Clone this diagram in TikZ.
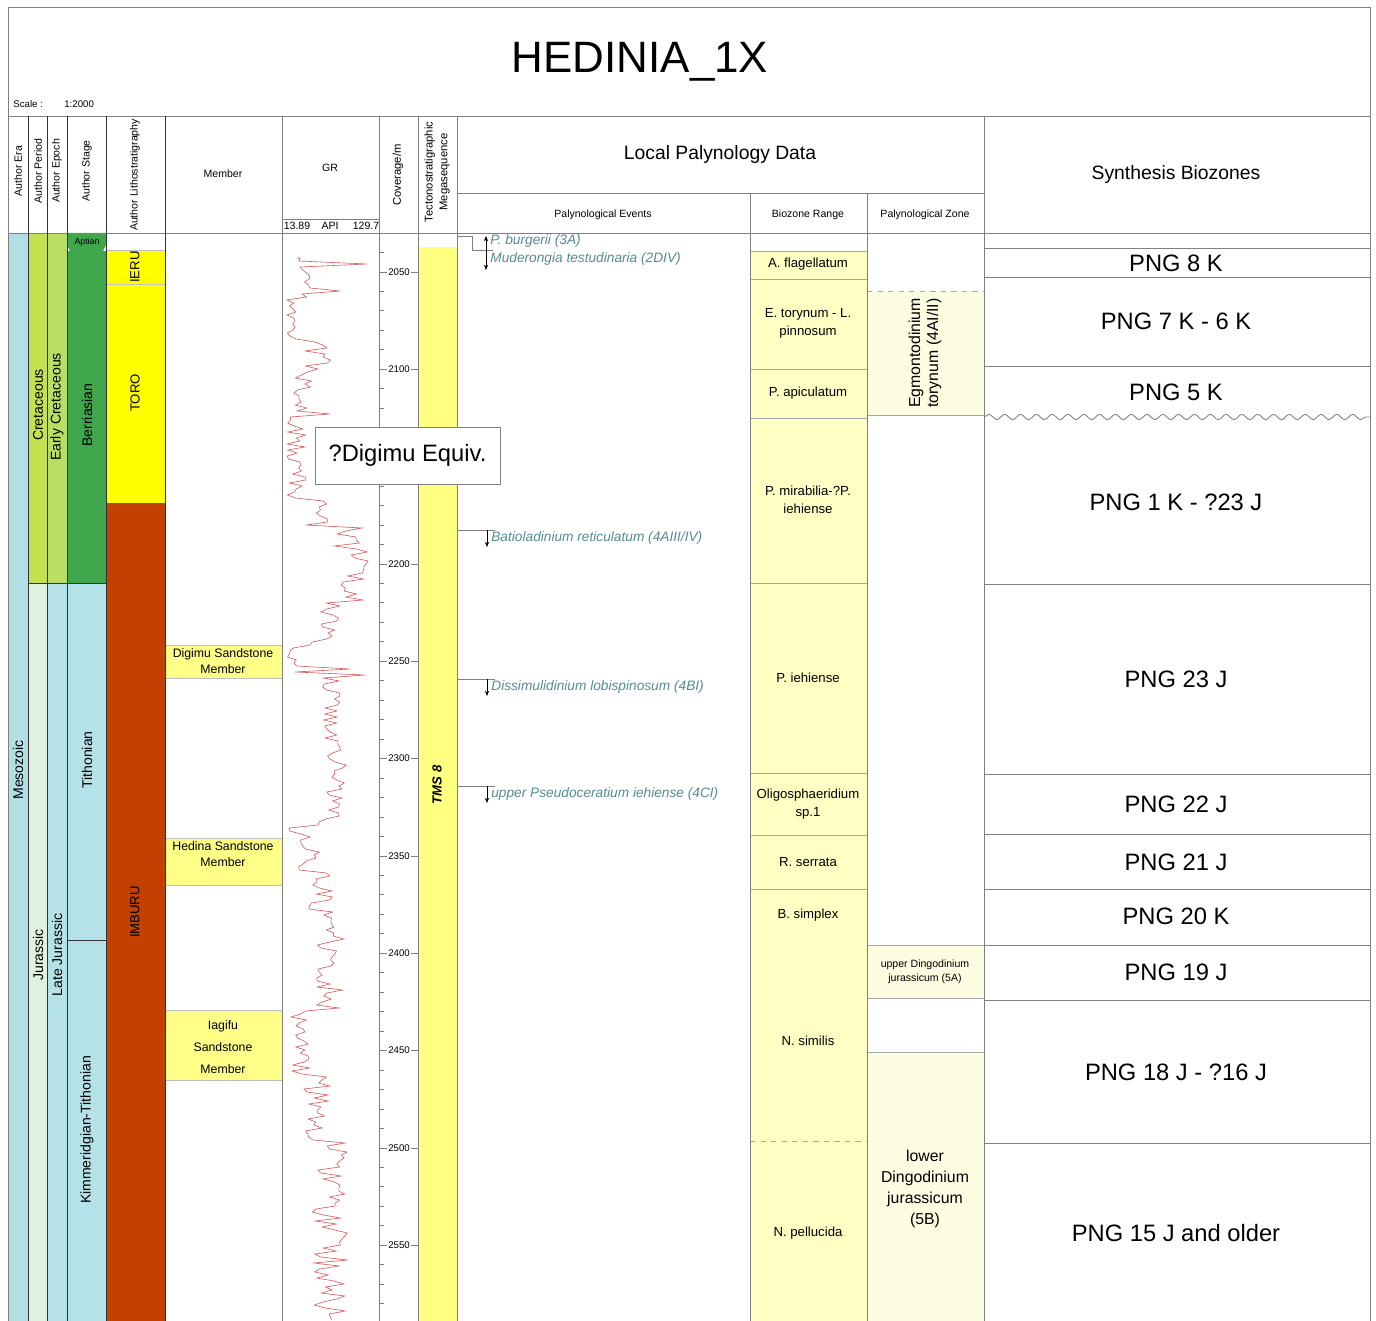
\documentclass[tikz,border=0pt]{standalone}
\usepackage{fontspec}
\setmainfont{Liberation Sans}
\usepackage{tikz}
\usetikzlibrary{arrows.meta, decorations.pathmorphing}
\definecolor{gridgray}{RGB}{128,128,128}
\definecolor{eracol}{RGB}{178,223,229}
\definecolor{cretcol}{RGB}{197,224,80}
\definecolor{ecretcol}{RGB}{185,222,100}
\definecolor{jurcol}{RGB}{226,242,224}
\definecolor{ljurcol}{RGB}{180,226,232}
\definecolor{berrcol}{RGB}{64,166,76}
\definecolor{imbcol}{RGB}{194,65,0}
\definecolor{lithocol}{RGB}{255,255,0}
\definecolor{membcol}{RGB}{255,255,136}
\definecolor{tmscol}{RGB}{255,255,128}
\definecolor{rangecol}{RGB}{255,255,196}
\definecolor{zonecol}{RGB}{253,253,226}
\definecolor{evtcol}{RGB}{84,140,142}
\definecolor{grcol}{RGB}{214,90,90}
\newcommand{\fsz}[2]{\fontsize{#1}{#2}\selectfont}

\begin{document}
\begin{tikzpicture}[x=0.02cm, y=-0.02cm, >={Stealth[length=3pt,width=2.4pt]},
    rule/.style={gridgray, line width=0.5pt},
    darkrule/.style={gridgray!40!black, line width=0.5pt},
    hdr/.style={font=\fsz{6}{8}, align=center, inner sep=0},
    vhdr/.style={hdr, rotate=90},
    unitlbl/.style={font=\fsz{8}{9.6}, rotate=90, inner sep=0},
    rangebox/.style={fill=rangecol, draw=gridgray!70, line width=0.4pt},
    zonebox/.style={fill=zonecol, draw=gridgray!70, line width=0.4pt},
    rangetxt/.style={font=\fsz{7.5}{10.2}, align=center, inner sep=0},
    membbox/.style={fill=membcol, draw=gridgray!50, line width=0.4pt},
    membtxt/.style={font=\fsz{7}{9.3}, align=center, inner sep=0},
    png/.style={font=\fsz{13.5}{16}, inner sep=0},
    evt/.style={font=\fsz{7.8}{9.4}\itshape, text=evtcol, anchor=west, inner sep=0},
    depthlbl/.style={font=\fsz{5.5}{6.6}, inner sep=0}]
\useasboundingbox (0,0) rectangle (1376,1321);

% chronostratigraphy columns
\fill[eracol] (8,233) rectangle (28,1321);
\fill[cretcol] (28,233) rectangle (47,583);
\fill[jurcol] (28,583) rectangle (47,1321);
\fill[ecretcol] (47,233) rectangle (67,583);
\fill[ljurcol] (47,583) rectangle (67,1321);
\fill[berrcol] (67,233) -- (106,233) -- (106,245) -- (103,251) -- (70,251) -- (67,245) -- cycle;
\fill[berrcol] (67,251) rectangle (106,583);
\fill[ljurcol] (67,583) rectangle (106,1321);
\draw[darkrule] (67,940) -- (106,940);

% lithostratigraphy
\fill[lithocol] (106,250) rectangle (165,503);
\draw[gridgray!50] (106,250) -- (165,250) (106,284) -- (165,284);
\fill[imbcol] (106,503) rectangle (165,1321);

% members
\draw[membbox] (165,645) rectangle (282,678);
\draw[membbox] (165,838) rectangle (282,885);
\draw[membbox] (165,1010) rectangle (282,1080);

% megasequence
\fill[tmscol] (418,247) rectangle (457,1321);

% biozone range
\draw[rangebox] (750,251) rectangle (867,279);
\draw[rangebox] (750,279) rectangle (867,369);
\draw[rangebox] (750,369) rectangle (867,418);
\draw[rangebox] (750,418) rectangle (867,583);
\draw[rangebox] (750,583) rectangle (867,773);
\draw[rangebox] (750,773) rectangle (867,835);
\draw[rangebox] (750,835) rectangle (867,889);
\draw[rangebox] (750,889) rectangle (867,945);
\fill[rangecol] (750,945) rectangle (867,1321);
\draw[gridgray!70, dashed, line width=0.4pt] (750,1141) -- (867,1141);

% palynological zone
\fill[zonecol] (867,291) rectangle (984,415);
\draw[gridgray!70, dashed, line width=0.4pt] (867,291) -- (984,291);
\draw[gridgray!70, line width=0.4pt] (867,415) -- (984,415);
\draw[zonebox] (867,945) rectangle (984,998);
\fill[zonecol] (867,1052) rectangle (984,1321);
\draw[gridgray!70, line width=0.4pt] (867,1052) -- (984,1052);

% GR log
\pgfmathsetseed{11}
\draw[grcol, line width=0.35pt] (297,258)
  foreach \ka/\kb/\m/\a in {86/87/300/4, 88/88/367/0, 89/89/300/0, 90/96/305/6,
    97/97/340/0, 98/99/305/4, 100/113/292/6, 114/123/318/18, 124/137/303/10,
    138/138/330/0, 139/166/297/10, 167/175/318/12, 176/182/350/18, 183/200/355/14,
    201/213/330/10, 214/215/305/8, 216/222/292/5, 223/223/350/0, 224/224/295/0,
    225/225/365/0, 226/253/332/10, 254/272/338/12, 273/275/318/8, 276/277/290/3,
    278/290/310/12, 291/306/322/14, 307/336/330/14, 337/358/300/10, 359/380/318/14,
    381/440/330/18}
  { foreach \k in {\ka,...,\kb} { -- ({\m+\a*rand},{3*\k}) } };

% frame and grid
\draw[rule] (8,1321) -- (8,7) -- (1370,7) -- (1370,1321);
\draw[rule] (8,116) -- (1370,116);
\draw[rule] (8,233) -- (1370,233);
\draw[rule] (457,193) -- (984,193);
\draw[rule] (282,219) -- (379,219);
\foreach \x in {28,47,67,106,165} \draw[darkrule] (\x,116) -- (\x,1321);
\draw[darkrule] (28,583) -- (106,583);
\foreach \x in {282,379,418,457,984} \draw[rule] (\x,116) -- (\x,1321);
\foreach \x in {750,867} \draw[rule] (\x,193) -- (\x,1321);
\foreach \y in {248,277,366,584,774,834,889,945,1000,1143} \draw[rule] (984,\y) -- (1370,\y);
\draw[rule, decorate, decoration={snake, segment length=9pt, amplitude=1.5pt}] (984,417) -- (1370,417);

% depth scale (2150 sits under the equivalent box)
\foreach \d in {2040,2050,...,2580}
  \draw[rule] (379,{272+(\d-2050)*1.9466}) -- (384,{272+(\d-2050)*1.9466});
\foreach \d in {2050,2100,2200,2250,...,2550}{
  \draw[rule] (379,{272+(\d-2050)*1.9466}) -- (387,{272+(\d-2050)*1.9466});
  \draw[rule] (411,{272+(\d-2050)*1.9466}) -- (418,{272+(\d-2050)*1.9466});
  \node[depthlbl] (d\d) at (399,{272+(\d-2050)*1.9466}) {\d};
}

% title and headers
\node[font=\fsz{25}{30}, inner sep=0] (title) at (640,62) {HEDINIA\_1X};
\node[hdr, font=\fsz{5.5}{7}, anchor=west] (scale) at (13,104) {Scale :};
\node[hdr, font=\fsz{5.5}{7}, anchor=west] (scaleval) at (64,104) {1:2000};
\node[vhdr] (hEra) at (18,171) {Author Era};
\node[vhdr] (hPeriod) at (38,171) {Author Period};
\node[vhdr] (hEpoch) at (57,171) {Author Epoch};
\node[vhdr] (hStage) at (87,171) {Author Stage};
\node[vhdr] (hLitho) at (135,175) {Author Lithostratigraphy};
\node[hdr] (hMember) at (223,174) {Member};
\node[hdr] (hGR) at (330,168) {GR};
\node[hdr] (grMin) at (297,226) {13.89};
\node[hdr] (grUnit) at (330,226) {API};
\node[hdr] (grMax) at (366,226) {129.7};
\node[vhdr, font=\fsz{6.4}{8.4}] (hCov) at (398,175) {Coverage/m};
\node[vhdr, font=\fsz{6.4}{8.4}] (hTect) at (437,172) {Tectonostratigraphic\\Megasequence};
\node[font=\fsz{11}{13}, inner sep=0] (hLocal) at (720,155) {Local Palynology Data};
\node[hdr] (hEvents) at (603,215) {Palynological Events};
\node[hdr] (hRange) at (808,215) {Biozone Range};
\node[hdr] (hZone) at (925,215) {Palynological Zone};
\node[font=\fsz{11}{13}, inner sep=0] (hSynth) at (1176,175) {Synthesis Biozones};

% chronostratigraphy labels
\node[unitlbl] (mesozoic) at (18,770) {Mesozoic};
\node[unitlbl] (cret) at (38,405) {Cretaceous};
\node[unitlbl] (jur) at (38,955) {Jurassic};
\node[unitlbl] (ecret) at (57,407) {Early Cretaceous};
\node[unitlbl] (ljur) at (57,955) {Late Jurassic};
\node[font=\fsz{5}{6}, inner sep=0] (aptian) at (87,242) {Aptian};
\node[unitlbl] (berr) at (87,415) {Berriasian};
\node[unitlbl] (tith) at (87,760) {Tithonian};
\node[unitlbl] (kimm) at (87,1130) {Kimmeridgian-Tithonian};
\node[unitlbl, font=\fsz{7.5}{9}] (ieru) at (135,267) {IERU};
\node[unitlbl, font=\fsz{7.5}{9}] (toro) at (135,393) {TORO};
\node[unitlbl, font=\fsz{7.5}{9}] (imburu) at (135,912) {IMBURU};

% members
\node[membtxt] (digimu) at (223,661) {Digimu Sandstone\\Member};
\node[membtxt] (hedina) at (223,854) {Hedina Sandstone\\Member};
\node[membtxt, font=\fsz{7}{12.5}] (iagifu) at (223,1047) {Iagifu\\Sandstone\\Member};
\node[unitlbl, font=\fsz{7.5}{9}\bfseries\itshape] (tms) at (437,785) {TMS 8};

% palynological events
\draw[rule] (457,236) -- (472,236) -- (472,250) -- (493,250);
\draw[<->, line width=0.4pt] (486,236) -- (486,270);
\node[evt] (burgerii) at (490,241) {P. burgerii (3A)};
\node[evt] (muder) at (490,259) {Muderongia testudinaria (2DIV)};
\foreach \y/\n/\t in {530/batio/{Batioladinium reticulatum (4AIII/IV)},
    679/dissi/{Dissimulidinium lobispinosum (4BI)},
    786/pseudo/{upper Pseudoceratium iehiense (4CI)}}{
  \draw[rule] (457,\y) -- (495,\y);
  \draw[->, line width=0.4pt] (487,\y) -- (487,{\y+17});
  \node[evt] (\n) at (491,{\y+8}) {\t};
}

% biozone range labels
\node[rangetxt] (flag) at (808,264) {A. flagellatum};
\node[rangetxt] (tory) at (808,323) {E. torynum - L.\\pinnosum};
\node[rangetxt] (apic) at (808,393) {P. apiculatum};
\node[rangetxt] (mirab) at (808,500) {P. mirabilia-?P.\\iehiense};
\node[rangetxt] (iehi) at (808,678) {P. iehiense};
\node[rangetxt] (oligo) at (808,804) {Oligosphaeridium\\sp.1};
\node[rangetxt] (serr) at (808,862) {R. serrata};
\node[rangetxt] (simp) at (808,915) {B. simplex};
\node[rangetxt] (simi) at (808,1041) {N. similis};
\node[rangetxt] (pell) at (808,1233) {N. pellucida};

% palynological zone labels
\node[rangetxt, rotate=90, font=\fsz{9}{10.3}] (egmont) at (925,353) {Egmontodinium\\torynum (4AI/II)};
\node[rangetxt, font=\fsz{6}{8}] (upDingo) at (925,972) {upper Dingodinium\\jurassicum (5A)};
\node[rangetxt, font=\fsz{9}{11.9}] (lowDingo) at (925,1189) {lower\\Dingodinium\\jurassicum\\(5B)};

% synthesis biozones
\node[png] (png8) at (1176,263) {PNG 8 K};
\node[png] (png7) at (1176,321) {PNG 7 K - 6 K};
\node[png] (png5) at (1176,392) {PNG 5 K};
\node[png] (png1) at (1176,502) {PNG 1 K - ?23 J};
\node[png] (png23) at (1176,679) {PNG 23 J};
\node[png] (png22) at (1176,804) {PNG 22 J};
\node[png] (png21) at (1176,862) {PNG 21 J};
\node[png] (png20) at (1176,916) {PNG 20 K};
\node[png] (png19) at (1176,972) {PNG 19 J};
\node[png] (png18) at (1176,1072) {PNG 18 J - ?16 J};
\node[png] (png15) at (1176,1233) {PNG 15 J and older};

% equivalent box
\node[draw=gridgray, fill=white, line width=0.5pt, font=\fsz{13.5}{16},
      minimum width=185*0.02cm, minimum height=57*0.02cm, inner sep=0] (digiEq) at (407.5,455.5) {?Digimu Equiv.};
\end{tikzpicture}
\end{document}
